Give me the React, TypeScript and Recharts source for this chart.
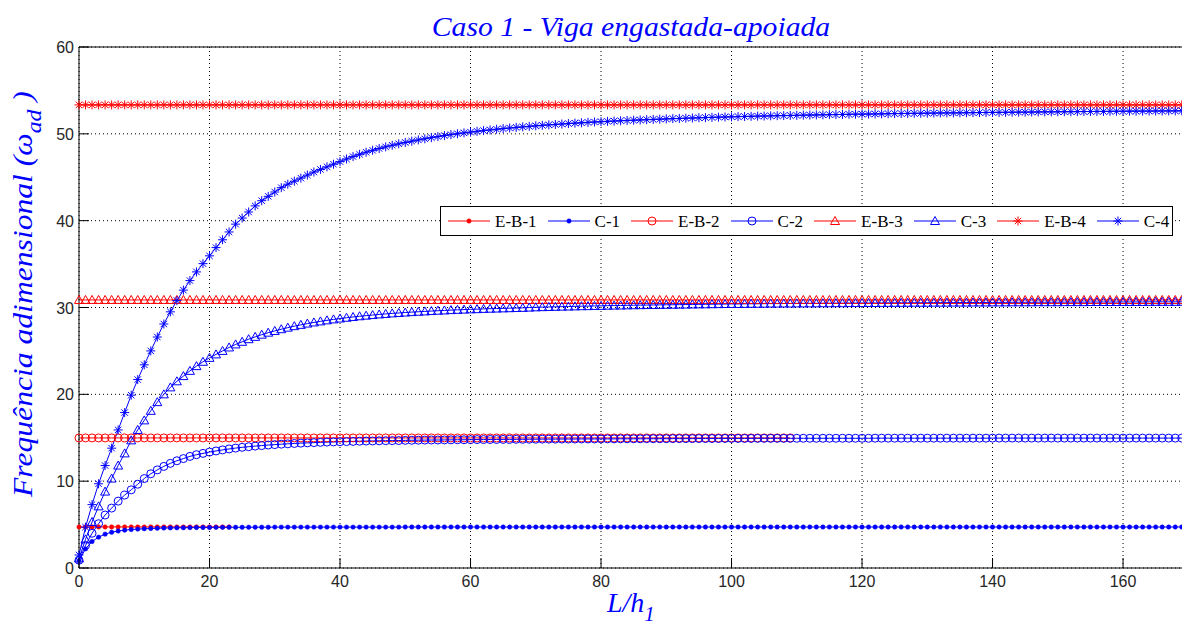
import React from "react";
import { LineChart, Line, XAxis, YAxis, CartesianGrid, Legend } from "recharts";

const RED = "#ff0000";
const BLUE = "#0000ff";

// L/h1 sample points
const X = [
  0, 1, 2, 3, 4, 5, 6, 7, 8, 9,
  10, 11, 12, 13, 14, 15, 16, 17, 18, 19,
  20, 21, 22, 23, 24, 25, 26, 27, 28, 29,
  30, 31, 32, 33, 34, 35, 36, 37, 38, 39,
  40, 41, 42, 43, 44, 45, 46, 47, 48, 49,
  50, 51, 52, 53, 54, 55, 56, 57, 58, 59,
  60, 61, 62, 63, 64, 65, 66, 67, 68, 69,
  70, 71, 72, 73, 74, 75, 76, 77, 78, 79,
  80, 81, 82, 83, 84, 85, 86, 87, 88, 89,
  90, 91, 92, 93, 94, 95, 96, 97, 98, 99,
  100, 101, 102, 103, 104, 105, 106, 107, 108, 109,
  110, 111, 112, 113, 114, 115, 116, 117, 118, 119,
  120, 121, 122, 123, 124, 125, 126, 127, 128, 129,
  130, 131, 132, 133, 134, 135, 136, 137, 138, 139,
  140, 141, 142, 143, 144, 145, 146, 147, 148, 149,
  150, 151, 152, 153, 154, 155, 156, 157, 158, 159,
  160, 161, 162, 163, 164, 165, 166, 167, 168, 169,
  170,
];

// Euler-Bernoulli: constant frequency and last L/h1 plotted
const EB_VALUE = [4.73, 14.98, 30.87, 53.33];
const EB_LAST = [23, 109, 170, 170];

// composite beam curves
const C1 = [
  0.85, 2.2, 3.05, 3.55, 3.9, 4.12, 4.26, 4.36, 4.43, 4.48,
  4.52, 4.55, 4.58, 4.6, 4.62, 4.63, 4.64, 4.65, 4.66, 4.67,
  4.67, 4.68, 4.68, 4.69, 4.69, 4.69, 4.7, 4.7, 4.7, 4.7,
  4.71, 4.71, 4.71, 4.71, 4.71, 4.71, 4.71, 4.71, 4.71, 4.71,
  4.71, 4.71, 4.71, 4.71, 4.71, 4.71, 4.71, 4.71, 4.71, 4.71,
  4.72, 4.72, 4.72, 4.72, 4.72, 4.72, 4.72, 4.72, 4.72, 4.72,
  4.72, 4.72, 4.72, 4.72, 4.72, 4.72, 4.72, 4.72, 4.72, 4.72,
  4.72, 4.72, 4.72, 4.72, 4.72, 4.72, 4.72, 4.72, 4.72, 4.72,
  4.72, 4.72, 4.72, 4.72, 4.72, 4.72, 4.72, 4.72, 4.72, 4.72,
  4.72, 4.72, 4.72, 4.72, 4.72, 4.72, 4.72, 4.72, 4.72, 4.72,
  4.72, 4.72, 4.72, 4.72, 4.72, 4.72, 4.72, 4.72, 4.72, 4.72,
  4.72, 4.72, 4.72, 4.72, 4.72, 4.72, 4.72, 4.72, 4.72, 4.72,
  4.72, 4.72, 4.72, 4.72, 4.72, 4.72, 4.72, 4.72, 4.72, 4.72,
  4.72, 4.72, 4.72, 4.72, 4.72, 4.72, 4.72, 4.72, 4.72, 4.72,
  4.72, 4.72, 4.72, 4.72, 4.72, 4.72, 4.72, 4.72, 4.72, 4.72,
  4.72, 4.72, 4.72, 4.72, 4.72, 4.72, 4.72, 4.72, 4.72, 4.72,
  4.72, 4.72, 4.72, 4.72, 4.72, 4.72, 4.72, 4.72, 4.72, 4.72,
  4.72,
];

const C2 = [
  0.9, 2.6, 4.0, 5.1, 6.1, 6.9, 7.7, 8.4, 9.0, 9.65,
  10.3, 10.85, 11.3, 11.7, 12.05, 12.35, 12.6, 12.85, 13.05, 13.2,
  13.35, 13.48, 13.6, 13.71, 13.81, 13.9, 13.97, 14.04, 14.1, 14.16,
  14.21, 14.26, 14.3, 14.34, 14.38, 14.41, 14.44, 14.47, 14.5, 14.52,
  14.54, 14.56, 14.58, 14.6, 14.62, 14.63, 14.65, 14.66, 14.67, 14.68,
  14.7, 14.71, 14.72, 14.73, 14.74, 14.74, 14.75, 14.76, 14.77, 14.77,
  14.78, 14.79, 14.79, 14.8, 14.8, 14.81, 14.81, 14.82, 14.82, 14.83,
  14.83, 14.84, 14.84, 14.84, 14.85, 14.85, 14.85, 14.86, 14.86, 14.86,
  14.87, 14.87, 14.87, 14.88, 14.88, 14.88, 14.88, 14.89, 14.89, 14.89,
  14.89, 14.9, 14.9, 14.9, 14.9, 14.91, 14.91, 14.91, 14.91, 14.92,
  14.92, 14.92, 14.92, 14.92, 14.93, 14.93, 14.93, 14.93, 14.93, 14.93,
  14.94, 14.94, 14.94, 14.94, 14.94, 14.94, 14.94, 14.94, 14.94, 14.94,
  14.94, 14.94, 14.95, 14.95, 14.95, 14.95, 14.95, 14.95, 14.95, 14.95,
  14.95, 14.95, 14.95, 14.95, 14.95, 14.95, 14.95, 14.95, 14.95, 14.95,
  14.96, 14.96, 14.96, 14.96, 14.96, 14.96, 14.96, 14.96, 14.96, 14.96,
  14.96, 14.96, 14.96, 14.96, 14.96, 14.96, 14.96, 14.96, 14.96, 14.96,
  14.96, 14.96, 14.96, 14.96, 14.96, 14.96, 14.96, 14.96, 14.96, 14.96,
  14.96,
];

const C3 = [
  1.1, 3.3, 5.3, 7.1, 8.8, 10.3, 11.8, 13.2, 14.7, 15.9,
  17.0, 18.1, 19.1, 20.0, 20.8, 21.5, 22.1, 22.7, 23.25, 23.75,
  24.2, 24.6, 25.0, 25.4, 25.75, 26.05, 26.35, 26.62, 26.87, 27.1,
  27.3, 27.5, 27.68, 27.85, 28.0, 28.15, 28.28, 28.4, 28.52, 28.63,
  28.73, 28.82, 28.91, 28.99, 29.06, 29.13, 29.2, 29.26, 29.32, 29.37,
  29.42, 29.47, 29.51, 29.55, 29.59, 29.63, 29.66, 29.7, 29.73, 29.76,
  29.79, 29.81, 29.84, 29.86, 29.88, 29.9, 29.92, 29.94, 29.96, 29.99,
  30.02, 30.04, 30.06, 30.08, 30.1, 30.11, 30.13, 30.15, 30.16, 30.18,
  30.19, 30.21, 30.22, 30.23, 30.25, 30.26, 30.27, 30.28, 30.29, 30.3,
  30.31, 30.32, 30.33, 30.34, 30.35, 30.36, 30.37, 30.38, 30.39, 30.4,
  30.41, 30.41, 30.42, 30.43, 30.43, 30.44, 30.45, 30.45, 30.46, 30.46,
  30.47, 30.47, 30.48, 30.48, 30.49, 30.49, 30.5, 30.5, 30.51, 30.51,
  30.52, 30.52, 30.52, 30.53, 30.53, 30.54, 30.54, 30.54, 30.55, 30.55,
  30.55, 30.56, 30.56, 30.56, 30.57, 30.57, 30.57, 30.58, 30.58, 30.58,
  30.59, 30.59, 30.59, 30.6, 30.6, 30.6, 30.6, 30.61, 30.61, 30.61,
  30.61, 30.62, 30.62, 30.62, 30.62, 30.63, 30.63, 30.63, 30.63, 30.63,
  30.64, 30.64, 30.64, 30.64, 30.65, 30.65, 30.65, 30.65, 30.65, 30.66,
  30.66,
];

const C4 = [
  1.5, 4.7, 7.3, 9.7, 11.8, 13.8, 15.9, 17.9, 19.9, 21.7,
  23.4, 25.0, 26.6, 28.1, 29.5, 30.8, 32.0, 33.1, 34.1, 35.05,
  35.95, 36.9, 37.8, 38.7, 39.6, 40.3, 41.0, 41.7, 42.3, 42.8,
  43.3, 43.8, 44.2, 44.55, 44.9, 45.25, 45.6, 45.9, 46.2, 46.5,
  46.8, 47.1, 47.38, 47.64, 47.88, 48.1, 48.31, 48.5, 48.68, 48.85,
  49.01, 49.16, 49.3, 49.43, 49.56, 49.68, 49.8, 49.91, 50.01, 50.11,
  50.2, 50.29, 50.37, 50.45, 50.53, 50.6, 50.67, 50.74, 50.8, 50.86,
  50.92, 50.98, 51.03, 51.08, 51.13, 51.18, 51.23, 51.27, 51.32, 51.36,
  51.4, 51.44, 51.47, 51.51, 51.54, 51.57, 51.6, 51.63, 51.66, 51.69,
  51.72, 51.75, 51.77, 51.8, 51.82, 51.85, 51.87, 51.9, 51.92, 51.94,
  51.96, 51.98, 52.0, 52.02, 52.04, 52.05, 52.07, 52.09, 52.1, 52.12,
  52.13, 52.15, 52.16, 52.18, 52.19, 52.21, 52.22, 52.23, 52.25, 52.26,
  52.27, 52.28, 52.29, 52.3, 52.32, 52.33, 52.34, 52.35, 52.36, 52.37,
  52.38, 52.39, 52.4, 52.41, 52.41, 52.42, 52.43, 52.44, 52.45, 52.46,
  52.47, 52.47, 52.48, 52.49, 52.5, 52.5, 52.51, 52.52, 52.53, 52.53,
  52.54, 52.55, 52.55, 52.56, 52.57, 52.57, 52.58, 52.58, 52.59, 52.6,
  52.6, 52.61, 52.61, 52.62, 52.62, 52.63, 52.63, 52.64, 52.64, 52.65,
  52.65,
];

const X_TICKS = [0, 20, 40, 60, 80, 100, 120, 140, 160];
const Y_TICKS = [0, 10, 20, 30, 40, 50, 60];

type Marker = "point" | "circle" | "triangle" | "star";

const ebData = (i: number) => X.filter((x) => x <= EB_LAST[i]).map((x) => ({ x, y: EB_VALUE[i] }));
const cData = (vals: number[]) => X.map((x, i) => ({ x, y: vals[i] }));

const SERIES: { name: string; color: string; marker: Marker; data: { x: number; y: number }[] }[] = [
  { name: "E-B-1", color: RED, marker: "point", data: ebData(0) },
  { name: "C-1", color: BLUE, marker: "point", data: cData(C1) },
  { name: "E-B-2", color: RED, marker: "circle", data: ebData(1) },
  { name: "C-2", color: BLUE, marker: "circle", data: cData(C2) },
  { name: "E-B-3", color: RED, marker: "triangle", data: ebData(2) },
  { name: "C-3", color: BLUE, marker: "triangle", data: cData(C3) },
  { name: "E-B-4", color: RED, marker: "star", data: ebData(3) },
  { name: "C-4", color: BLUE, marker: "star", data: cData(C4) },
];

function markerShape(marker: Marker, cx: number, cy: number, color: string, key?: string) {
  if (marker === "point") {
    return <circle key={key} cx={cx} cy={cy} r={2.2} fill={color} stroke={color} strokeWidth={0.5} />;
  }
  if (marker === "circle") {
    return <circle key={key} cx={cx} cy={cy} r={4} fill="none" stroke={color} strokeWidth={1} />;
  }
  if (marker === "triangle") {
    const d = `M${cx},${cy - 4.5}L${cx + 4.5},${cy + 3.5}L${cx - 4.5},${cy + 3.5}Z`;
    return <path key={key} d={d} fill="none" stroke={color} strokeWidth={1} />;
  }
  const d =
    `M${cx - 4.5},${cy}H${cx + 4.5}M${cx},${cy - 4.5}V${cy + 4.5}` +
    `M${cx - 3.2},${cy - 3.2}L${cx + 3.2},${cy + 3.2}M${cx - 3.2},${cy + 3.2}L${cx + 3.2},${cy - 3.2}`;
  return <path key={key} d={d} fill="none" stroke={color} strokeWidth={1} />;
}

const TICK_FONT = { fontFamily: "'Liberation Sans', Arial, sans-serif", fontSize: 16, fill: "#262626" };
const LABEL_FONT = { fontFamily: "'Liberation Serif', 'Times New Roman', serif", fontStyle: "italic", fill: BLUE };

const BottomTick = (props: any) => {
  const { x, y, payload } = props;
  return (
    <g>
      <line x1={x} y1={y} x2={x} y2={y - 10} stroke="#000" />
      <text x={x} y={y + 19} textAnchor="middle" {...TICK_FONT}>
        {payload.value}
      </text>
    </g>
  );
};

const TopTick = (props: any) => <line x1={props.x} y1={props.y} x2={props.x} y2={props.y + 10} stroke="#000" />;

const LeftTick = (props: any) => {
  const { x, y, payload } = props;
  return (
    <g>
      <line x1={x} y1={y} x2={x + 10} y2={y} stroke="#000" />
      <text x={x - 5} y={y + 6} textAnchor="end" {...TICK_FONT}>
        {payload.value}
      </text>
    </g>
  );
};

const RightTick = (props: any) => <line x1={props.x} y1={props.y} x2={props.x - 10} y2={props.y} stroke="#000" />;

const renderLegend = () => (
  <div
    style={{
      display: "flex",
      alignItems: "center",
      height: 30,
      boxSizing: "border-box",
      border: "1px solid #000",
      background: "#fff",
      paddingLeft: 7,
      fontFamily: "'Liberation Serif', 'Times New Roman', serif",
      fontSize: 17,
      color: "#000",
    }}
  >
    {SERIES.map((s, i) => (
      <div key={s.name} style={{ display: "flex", alignItems: "center" }}>
        <svg width={42} height={14} style={{ display: "block" }}>
          <line x1={0} y1={7} x2={42} y2={7} stroke={s.color} strokeWidth={1} />
          {markerShape(s.marker, 21, 7, s.color)}
        </svg>
        <span style={{ marginLeft: 5, marginRight: i < SERIES.length - 1 ? 11 : 0, lineHeight: "17px" }}>{s.name}</span>
      </div>
    ))}
  </div>
);

export default function App() {
  return (
    <div style={{ position: "absolute", left: 0, top: 0, width: 1182, height: 629, overflow: "hidden", background: "#fff" }}>
      <LineChart width={1200} height={629} margin={{ top: 46, right: 0, bottom: 0, left: 0 }}>
        <CartesianGrid stroke="#000" strokeDasharray="1 3" />
        <XAxis
          dataKey="x"
          type="number"
          domain={[0, 170]}
          ticks={X_TICKS}
          interval={0}
          height={61}
          tickSize={0}
          tickMargin={0}
          tickLine={false}
          tick={BottomTick}
          axisLine={{ stroke: "#000" }}
          allowDuplicatedCategory={false}
          label={{
            value: "L/h1",
            content: () => (
              <text x={607} y={612} {...LABEL_FONT} fontSize={28}>
                L/h
                <tspan dy={9} fontSize={21}>
                  1
                </tspan>
              </text>
            ),
          }}
        />
        <XAxis
          xAxisId="top"
          orientation="top"
          dataKey="x"
          type="number"
          domain={[0, 170]}
          ticks={X_TICKS}
          interval={0}
          height={1}
          tickSize={0}
          tickMargin={0}
          tickLine={false}
          tick={TopTick}
          axisLine={{ stroke: "#000" }}
          label={{
            value: "title",
            content: () => (
              <text transform="translate(631 36) scale(1.06 1)" textAnchor="middle" {...LABEL_FONT} fontSize={28}>
                Caso 1 - Viga engastada-apoiada
              </text>
            ),
          }}
        />
        <YAxis
          type="number"
          domain={[0, 60]}
          ticks={Y_TICKS}
          interval={0}
          width={79}
          tickSize={0}
          tickMargin={0}
          tickLine={false}
          tick={LeftTick}
          axisLine={{ stroke: "#000" }}
          label={{
            value: "ylabel",
            content: () => (
              <text transform="translate(32 497) rotate(-90) scale(1.13 1)" {...LABEL_FONT} fontSize={28}>
                Frequência adimensional (ω
                <tspan dy={9} fontSize={21}>
                  ad
                </tspan>
                <tspan dy={-9}> )</tspan>
              </text>
            ),
          }}
        />
        <YAxis
          yAxisId="right"
          orientation="right"
          type="number"
          domain={[0, 60]}
          ticks={Y_TICKS}
          interval={0}
          width={11.7}
          tickSize={0}
          tickMargin={0}
          tickLine={false}
          tick={RightTick}
          axisLine={{ stroke: "#000" }}
        />
        <Legend
          layout="horizontal"
          verticalAlign="middle"
          align="center"
          content={renderLegend}
          wrapperStyle={{ position: "absolute", left: 440, top: 206, width: 733, height: 30 }}
        />
        {SERIES.map((s) => (
          <Line
            key={s.name}
            name={s.name}
            data={s.data}
            dataKey="y"
            stroke={s.color}
            strokeWidth={1}
            isAnimationActive={false}
            activeDot={false}
            dot={(p: any) => markerShape(s.marker, p.cx, p.cy, s.color, `${s.name}-${p.index}`)}
          />
        ))}
      </LineChart>
    </div>
  );
}
